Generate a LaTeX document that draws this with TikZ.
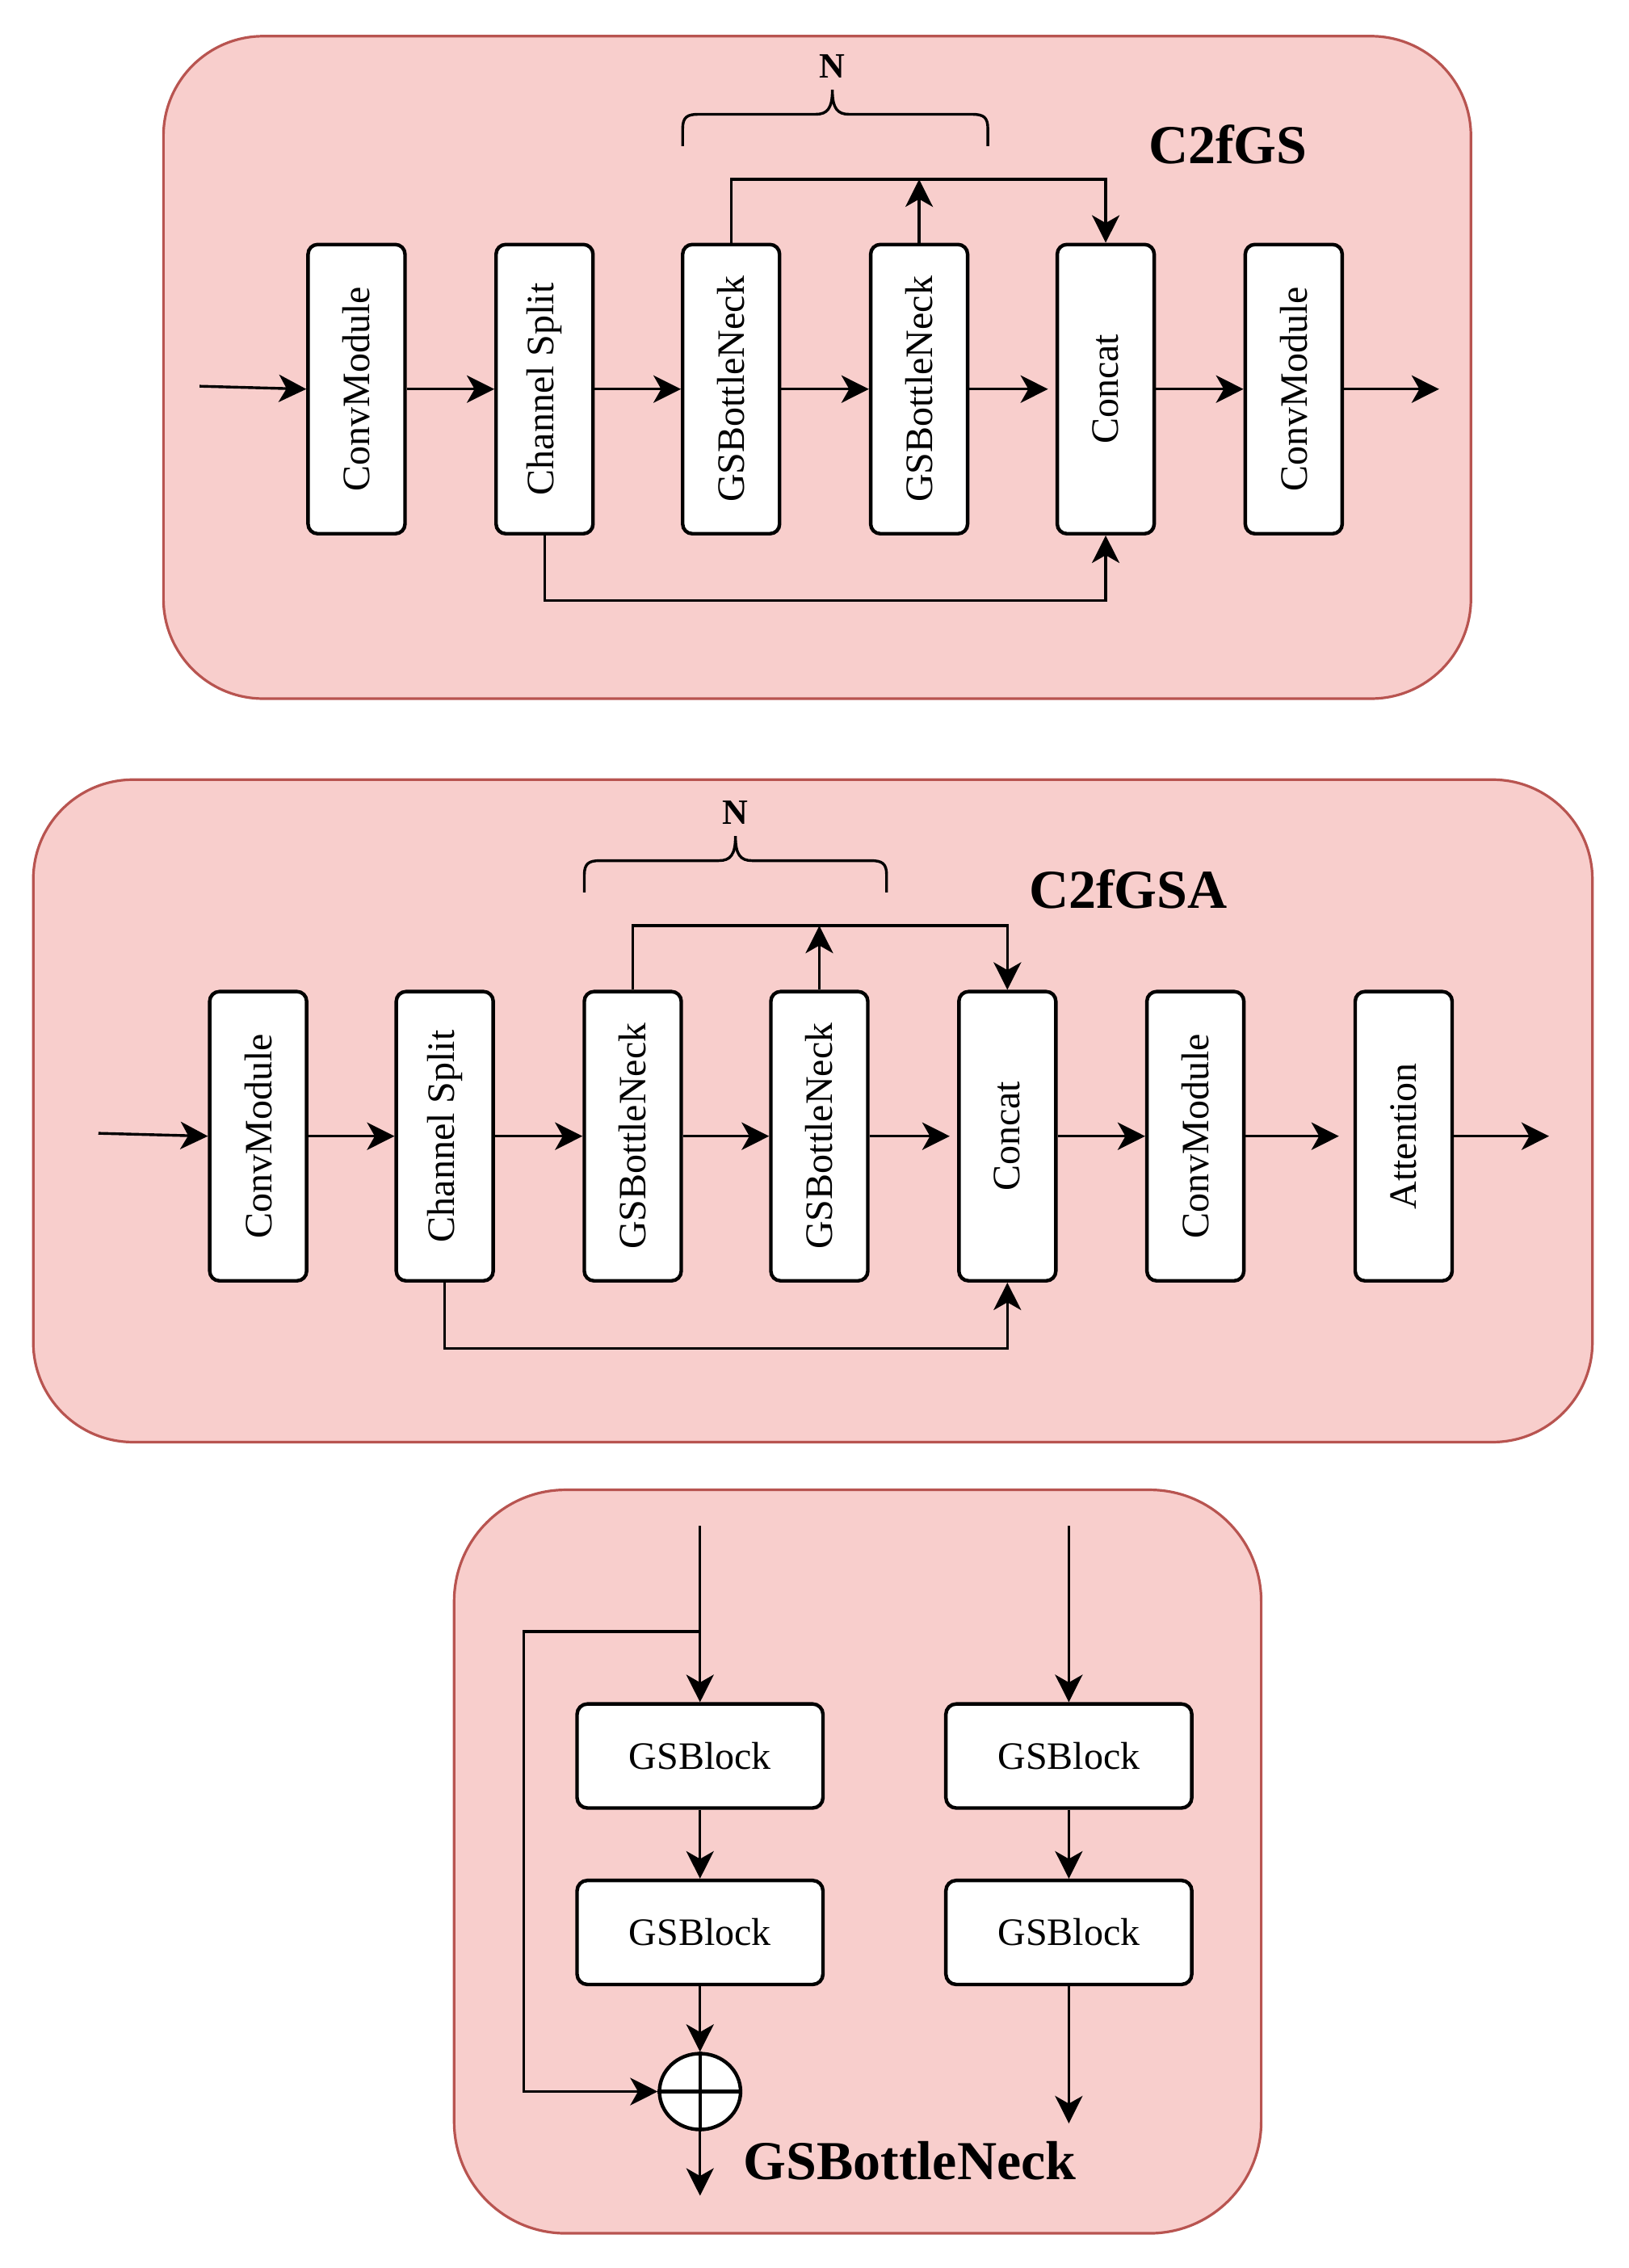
\documentclass[tikz,border=0pt]{standalone}
\usepackage{fontspec}
\setmainfont{Liberation Serif}
\usetikzlibrary{arrows.meta,shapes.geometric}
\definecolor{panelfill}{HTML}{F8CECC}
\definecolor{panelline}{HTML}{B85450}
\tikzset{
  panel/.style={draw=panelline, fill=panelfill, line width=0.8pt},
  vbox/.style={draw, fill=white, line width=1.1pt, rounded corners=3pt, minimum width=30pt, minimum height=89.5pt, inner sep=0pt, font=\fontsize{12}{14}\selectfont},
  hbox/.style={draw, fill=white, line width=1.1pt, rounded corners=3.2pt, minimum width=76.1pt, minimum height=32.2pt, inner sep=0pt, font=\fontsize{12}{14}\selectfont},
  conn/.style={line width=0.85pt, -{Stealth[length=8.5pt,width=8.5pt,inset=2.4pt]}},
  title/.style={font=\fontsize{17}{20}\selectfont\bfseries},
  ntext/.style={font=\fontsize{11}{13}\selectfont\bfseries},
  bracestyle/.style={line width=0.85pt},
}
\begin{document}
\begin{tikzpicture}[x=0.4476pt,y=-0.4476pt]
\useasboundingbox[fill=white] (0,0) rectangle (1126,1568);

% ---------------- Panel 1: C2fGS ----------------
\draw[panel, rounded corners=30.9pt] (113,25) rectangle (1017,483);
\node[vbox] (a1) at (246.5,269) {\rotatebox{90}{ConvModule}};
\node[vbox] (a2) at (376.5,269) {\rotatebox{90}{Channel Split}};
\node[vbox] (a3) at (505.5,269) {\rotatebox{90}{GSBottleNeck}};
\node[vbox] (a4) at (635.5,269) {\rotatebox{90}{GSBottleNeck}};
\node[vbox] (a5) at (764.5,269) {\rotatebox{90}{Concat}};
\node[vbox] (a6) at (894.5,269) {\rotatebox{90}{ConvModule}};
\coordinate (ain) at (138,267);
\coordinate (aout) at (995,269);
\coordinate (atop) at (505.5,124);
\draw[conn] (ain) -- (a1.west);
\draw[conn] (a1) -- (a2);
\draw[conn] (a2) -- (a3);
\draw[conn] (a3) -- (a4);
\draw[conn] (a4.east) -- ([xshift=-2.3pt]a5.west);
\draw[conn] (a5) -- (a6);
\draw[conn] (a6.east) -- (aout);
\draw[conn] (a3.north) -- (atop) -| (a5.north);
\draw[conn] (a4.north) -- (a4.north |- atop);
\draw[conn] (a2.south) -- ++(0,45) -| (a5.south);
\draw[bracestyle] (472,101) -- (472,89) .. controls (472,81) and (475,79) .. (483,79) -- (564,79) .. controls (572,79) and (575.5,75) .. (575.5,62) .. controls (575.5,75) and (579,79) .. (587,79) -- (672,79) .. controls (680,79) and (683,81) .. (683,89) -- (683,101);
\node[ntext] (an) at (575.5,46) {N};
\node[title] (at) at (849,100) {C2fGS};

% ---------------- Panel 2: C2fGSA ----------------
\draw[panel, rounded corners=30.9pt] (23,539) rectangle (1101,997);
\node[vbox] (b1) at (178.5,785.5) {\rotatebox{90}{ConvModule}};
\node[vbox] (b2) at (307.5,785.5) {\rotatebox{90}{Channel Split}};
\node[vbox] (b3) at (437.5,785.5) {\rotatebox{90}{GSBottleNeck}};
\node[vbox] (b4) at (566.5,785.5) {\rotatebox{90}{GSBottleNeck}};
\node[vbox] (b5) at (696.5,785.5) {\rotatebox{90}{Concat}};
\node[vbox] (b6) at (826.5,785.5) {\rotatebox{90}{ConvModule}};
\node[vbox] (b7) at (970.5,785.5) {\rotatebox{90}{Attention}};
\coordinate (bin) at (68,783.5);
\coordinate (bout) at (1071,785.5);
\coordinate (btop) at (437.5,640);
\draw[conn] (bin) -- (b1.west);
\draw[conn] (b1) -- (b2);
\draw[conn] (b2) -- (b3);
\draw[conn] (b3) -- (b4);
\draw[conn] (b4.east) -- ([xshift=-2.3pt]b5.west);
\draw[conn] (b5) -- (b6);
\draw[conn] (b6.east) -- ([xshift=-4.5pt]b7.west);
\draw[conn] (b7.east) -- (bout);
\draw[conn] (b3.north) -- (btop) -| (b5.north);
\draw[conn] (b4.north) -- (b4.north |- btop);
\draw[conn] (b2.south) -- ++(0,45.5) -| (b5.south);
\draw[bracestyle] (404,617) -- (404,605) .. controls (404,597) and (407,595) .. (415,595) -- (497,595) .. controls (505,595) and (508.5,591) .. (508.5,578) .. controls (508.5,591) and (512,595) .. (520,595) -- (602,595) .. controls (610,595) and (613,597) .. (613,605) -- (613,617);
\node[ntext] (bn) at (508.5,562) {N};
\node[title] (bt) at (780,615) {C2fGSA};

% ---------------- Panel 3: GSBottleNeck ----------------
\draw[panel, rounded corners=34.5pt] (314,1030) rectangle (872,1544);
\node[hbox] (c1) at (484,1214) {GSBlock};
\node[hbox] (c2) at (484,1336) {GSBlock};
\node[hbox] (c3) at (739,1214) {GSBlock};
\node[hbox] (c4) at (739,1336) {GSBlock};
\node[ellipse, draw, fill=white, line width=1.1pt, minimum width=25.1pt, minimum height=23.5pt, inner sep=0pt] (plus) at (484,1446) {};
\draw[line width=1.1pt] (plus.north) -- (plus.south) (plus.west) -- (plus.east);
\coordinate (cin1) at (484,1055);
\coordinate (cj) at (484,1128);
\coordinate (cout1) at (484,1518);
\coordinate (cin2) at (739,1055);
\coordinate (cout2) at (739,1468);
\draw[conn] (cin1) -- (c1.north);
\draw[conn] (c1) -- (c2);
\draw[conn] (c2.south) -- (plus.north);
\draw[conn] (cj) -- ++(-122,0) |- (plus.west);
\draw[conn] (plus.south) -- (cout1);
\draw[conn] (cin2) -- (c3.north);
\draw[conn] (c3) -- (c4);
\draw[conn] (c4.south) -- (cout2);
\node[title] (ct) at (629,1494) {GSBottleNeck};
\end{tikzpicture}
\end{document}
